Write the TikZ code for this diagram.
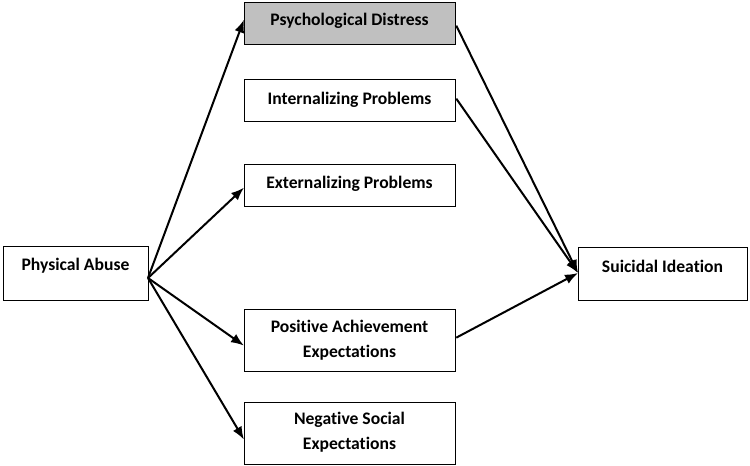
\documentclass[tikz,border=0pt]{standalone}
\usepackage{fontspec}
\setmainfont{Carlito}[Ligatures=NoCommon]
\usetikzlibrary{arrows.meta}
\definecolor{boxgray}{HTML}{C0C0C0}
\begin{document}
\begin{tikzpicture}[x=1pt,y=-1pt,
  box/.style={draw=black,line width=1.3pt,inner sep=0pt},
  lbl/.style={font=\fontsize{17.6}{25}\selectfont\bfseries,align=center},
  arr/.style={line width=2pt,-{Latex[length=13pt,width=10pt]}}]
\useasboundingbox (0,0) rectangle (750,466);
% boxes
\node[box,fill=boxgray,minimum width=211pt,minimum height=42pt,anchor=north west] (pd) at (244,2) {};
\node[box,minimum width=211pt,minimum height=42pt,anchor=north west] (ip) at (244,79) {};
\node[box,minimum width=211pt,minimum height=42pt,anchor=north west] (ep) at (244,164) {};
\node[box,minimum width=211pt,minimum height=62pt,anchor=north west] (pa) at (244,309) {};
\node[box,minimum width=211pt,minimum height=62pt,anchor=north west] (ns) at (244,402) {};
\node[box,minimum width=145pt,minimum height=54pt,anchor=north west] (ab) at (3,246) {};
\node[box,minimum width=169pt,minimum height=53pt,anchor=north west] (si) at (578,247) {};
% labels
\node[lbl] (tpd) at (349.5,21) {Psychological Distress};
\node[lbl] (tip) at (349.5,100) {Internalizing Problems};
\node[lbl] (tep) at (349.5,184) {Externalizing Problems};
\node[lbl] (tpa) at (349.5,340) {Positive Achievement\\Expectations};
\node[lbl] (tns) at (349.5,432) {Negative Social\\Expectations};
\node[lbl] (tab) at (75.5,266) {Physical Abuse};
\node[lbl] (tsi) at (662.5,266) {Suicidal Ideation};
% connector points
\coordinate (abo) at (148,278);
\coordinate (sii) at (578,273);
\draw[arr] (abo) -- ([yshift=4pt]pd.west);
\draw[arr] (abo) -- ([yshift=-2pt]ep.west);
\draw[arr] (abo) -- ([yshift=-5pt]pa.west);
\draw[arr] (abo) -- ([yshift=-6pt]ns.west);
\draw[arr] ([yshift=-2pt]pd.east) -- (sii);
\draw[arr] ([yshift=2pt]ip.east) -- (sii);
\draw[arr] ([yshift=3pt]pa.east) -- (sii);
\end{tikzpicture}
\end{document}
